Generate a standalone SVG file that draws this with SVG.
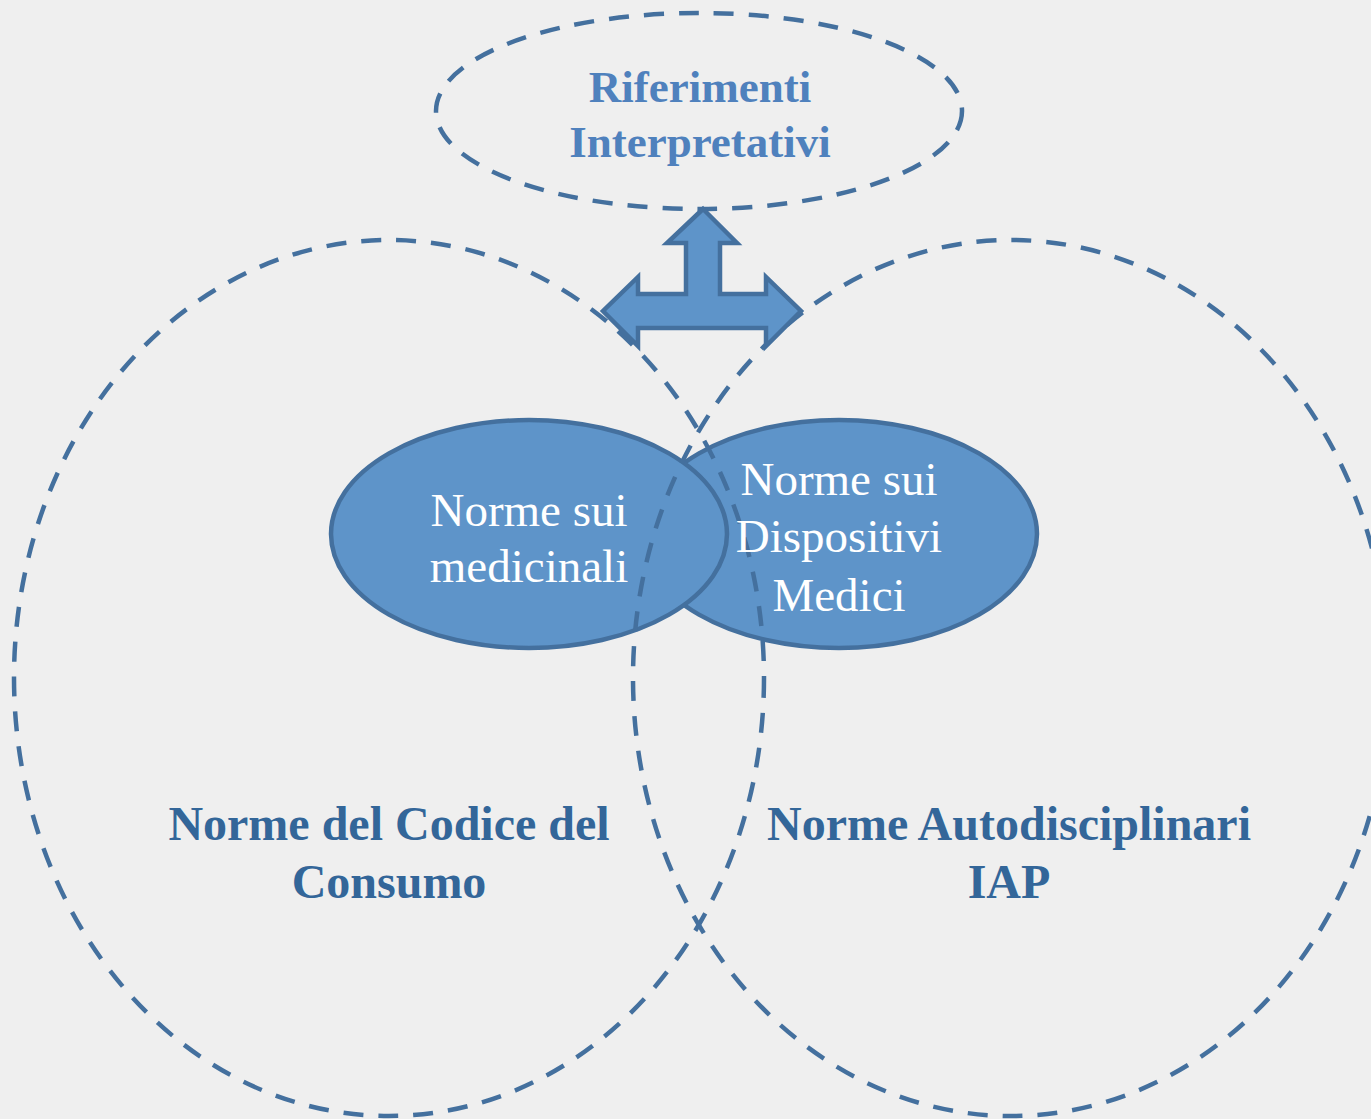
<svg xmlns="http://www.w3.org/2000/svg" width="1371" height="1119" viewBox="0 0 1371 1119">
<style>
.dash{fill:none;stroke:#44709e;stroke-width:4.5;stroke-dasharray:20 15}
.fillE{fill:#5e94c9;stroke:#44709e;stroke-width:4.5}
.wt{font-family:"Liberation Serif",serif;font-size:47px;fill:#ffffff;text-anchor:middle}
.bt{font-family:"Liberation Serif",serif;font-size:48px;font-weight:bold;fill:#336699;text-anchor:middle}
.tt{font-family:"Liberation Serif",serif;font-size:45px;font-weight:bold;fill:#4f81bd;text-anchor:middle}
</style>
<rect width="1371" height="1119" fill="#efefef"/>
<g id="dispositivi">
<ellipse class="fillE" cx="839" cy="534" rx="198" ry="114"/>
</g>
<g id="medicinali">
<ellipse class="fillE" cx="529" cy="534" rx="198" ry="114"/>
</g>
<g id="codice-consumo">
<ellipse class="dash" cx="389" cy="678" rx="375" ry="438"/>
<text class="bt" x="389" y="840">Norme del Codice del</text>
<text class="bt" x="389" y="898">Consumo</text>
</g>
<g id="autodisciplinari">
<ellipse class="dash" cx="1011" cy="678" rx="378" ry="438"/>
<text class="bt" x="1009" y="840">Norme Autodisciplinari</text>
<text class="bt" x="1009" y="898">IAP</text>
</g>
<g id="riferimenti">
<ellipse class="dash" cx="699" cy="111" rx="263" ry="98"/>
<text class="tt" x="700" y="102">Riferimenti</text>
<text class="tt" x="700" y="157">Interpretativi</text>
</g>
<g id="medicinali-text">
<text class="wt" x="529" y="526">Norme sui</text>
<text class="wt" x="529" y="582">medicinali</text>
</g>
<g id="dispositivi-text">
<text class="wt" x="839" y="495">Norme sui</text>
<text class="wt" x="839" y="552">Dispositivi</text>
<text class="wt" x="839" y="611">Medici</text>
</g>
<g id="connectors">
<path d="M703,209 L737,243 L720,243 L720,294 L766,294 L766,277 L801,311 L766,346 L766,328 L638,328 L638,346 L603,311 L638,277 L638,294 L686,294 L686,243 L667,243 Z" fill="#5e94c9" stroke="#44709e" stroke-width="4.5" stroke-linejoin="miter"/>
</g>
</svg>
